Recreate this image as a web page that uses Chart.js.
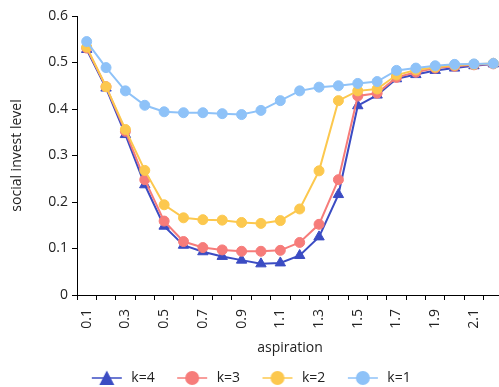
<!DOCTYPE html>
<html>
<head>
<meta charset="utf-8">
<script src="https://cdn.jsdelivr.net/npm/chart.js@4/dist/chart.umd.min.js"></script>
<style>
  html, body { margin: 0; padding: 0; background: #fff; overflow: hidden; }
</style>
</head>
<body>
<canvas id="chart" width="510" height="387"></canvas>
<script>
var aspiration = ['0.1','0.2','0.3','0.4','0.5','0.6','0.7','0.8','0.9','1.0','1.1',
                  '1.2','1.3','1.4','1.5','1.6','1.7','1.8','1.9','2.0','2.1','2.2']
var k4 = [0.528, 0.445, 0.345, 0.237, 0.148, 0.107, 0.093, 0.083, 0.075, 0.067, 0.069,
          0.085, 0.125, 0.216, 0.407, 0.430, 0.465, 0.474, 0.483, 0.488, 0.493, 0.497]
var k3 = [0.531, 0.448, 0.352, 0.248, 0.159, 0.115, 0.102, 0.097, 0.094, 0.094, 0.096,
          0.113, 0.152, 0.248, 0.428, 0.434, 0.468, 0.479, 0.488, 0.492, 0.495, 0.497]
var k2 = [0.533, 0.448, 0.356, 0.268, 0.194, 0.166, 0.162, 0.161, 0.156, 0.154, 0.160,
          0.185, 0.267, 0.418, 0.439, 0.443, 0.473, 0.484, 0.490, 0.494, 0.496, 0.498]
var k1 = [0.545, 0.489, 0.439, 0.408, 0.394, 0.392, 0.392, 0.390, 0.388, 0.397, 0.418,
          0.439, 0.447, 0.450, 0.455, 0.459, 0.483, 0.488, 0.493, 0.496, 0.497, 0.498]

var font = "'Open Sans', 'Noto Sans', sans-serif"
var textColor = '#222'

// small line + marker icons for the legend
function legendIcon(color, marker) {
    var c = document.createElement('canvas')
    c.width = 32
    c.height = 16
    var ctx = c.getContext('2d')
    ctx.strokeStyle = color
    ctx.lineWidth = 1.5
    ctx.beginPath()
    ctx.moveTo(1, 8)
    ctx.lineTo(31, 8)
    ctx.stroke()
    ctx.fillStyle = color
    ctx.beginPath()
    if (marker === 'triangle') {
        ctx.moveTo(16, 0.5)
        ctx.lineTo(23.5, 15)
        ctx.lineTo(8.5, 15)
        ctx.closePath()
    } else {
        ctx.arc(16, 8, 7, 0, Math.PI * 2)
    }
    ctx.fill()
    return c
}

function series(label, data, color, marker, order, radius) {
    return {
        label: label,
        data: data,
        borderColor: color,
        backgroundColor: color,
        pointBackgroundColor: color,
        pointBorderColor: color,
        pointBorderWidth: 1,
        pointStyle: marker,
        pointRadius: radius,
        borderWidth: 2,
        fill: false,
        tension: 0,
        order: order,
        icon: legendIcon(color, marker)
    }
}

var datasets = [
    series('k=4', k4, '#3b4cc3', 'triangle', 4, 6),
    series('k=3', k3, '#f67c7a', 'circle', 3, 5),
    series('k=2', k2, '#fcc84e', 'circle', 2, 5),
    series('k=1', k1, '#8ec2f8', 'circle', 1, 5)
]

var mychart = new Chart(document.getElementById('chart'), {
    type: 'line',
    data: {
        labels: aspiration,
        datasets: datasets
    },
    options: {
        responsive: false,
        animation: false,
        layout: { padding: { top: 16, left: -10, right: 0, bottom: -8 } },
        plugins: {
            tooltip: { enabled: false },
            legend: {
                position: 'bottom',
                labels: {
                    usePointStyle: true,
                    pointStyleWidth: 35,
                    padding: 20,
                    color: textColor,
                    font: { family: font, size: 14 },
                    generateLabels: function (chart) {
                        return chart.data.datasets.map(function (ds, i) {
                            return {
                                text: ds.label,
                                pointStyle: ds.icon,
                                fillStyle: ds.borderColor,
                                strokeStyle: ds.borderColor,
                                lineWidth: 0,
                                fontColor: textColor,
                                hidden: false,
                                datasetIndex: i
                            }
                        })
                    }
                }
            }
        },
        scales: {
            x: {
                offset: true,
                grid: { offset: true, drawOnChartArea: false, tickLength: 5, color: '#000' },
                border: { color: '#000', width: 1 },
                ticks: {
                    autoSkip: false,
                    maxRotation: 90,
                    minRotation: 90,
                    padding: 9,
                    color: textColor,
                    font: { family: font, size: 14 },
                    callback: function (v, i) {
                        return i % 2 === 0 ? aspiration[i] : ''
                    }
                },
                title: {
                    display: true,
                    text: 'aspiration',
                    color: textColor,
                    font: { family: font, size: 14 },
                    padding: { top: 4, bottom: -5 }
                },
                afterFit: function (scale) {
                    scale.height = 56
                    scale.paddingLeft = 0
                    scale.paddingRight = 0
                }
            },
            y: {
                min: 0,
                max: 0.6,
                grid: { drawOnChartArea: false, tickLength: 5, color: '#000' },
                border: { color: '#000', width: 1 },
                ticks: {
                    stepSize: 0.1,
                    padding: 4,
                    color: textColor,
                    font: { family: font, size: 14 },
                    callback: function (v) {
                        return v === 0 ? '0' : v.toFixed(1)
                    }
                },
                title: {
                    display: true,
                    text: 'social invest level',
                    color: textColor,
                    font: { family: font, size: 14 },
                    padding: { top: 19, bottom: 0 }
                },
                afterFit: function (scale) {
                    scale.width = 87
                    scale.paddingTop = 0
                    scale.paddingBottom = 0
                }
            }
        }
    }
});
</script>
</body>
</html>
